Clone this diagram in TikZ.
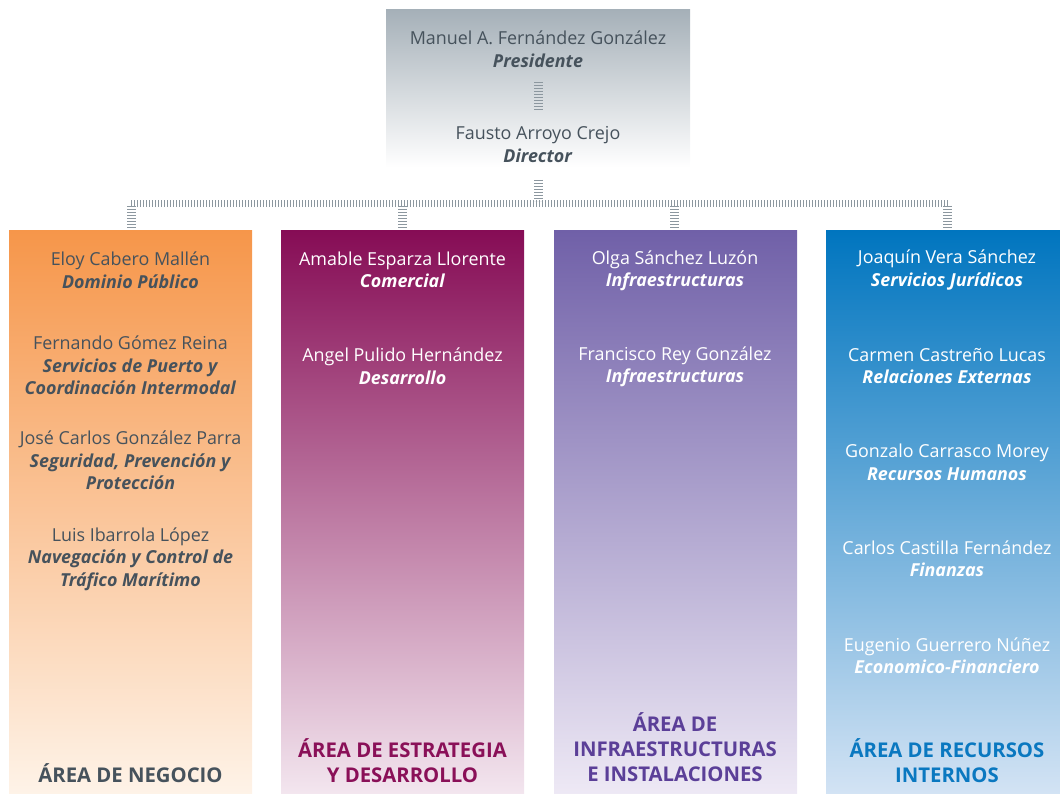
\documentclass[tikz,border=0pt]{standalone}
\usepackage{fontspec}
\setmainfont{Open Sans}
\definecolor{txt}{HTML}{46525C}
\definecolor{hatchc}{HTML}{8C979F}
\definecolor{topg}{HTML}{A5B0B8}
\definecolor{orT}{HTML}{F6964A}
\definecolor{orB}{HTML}{FEF3E8}
\definecolor{maT}{HTML}{860C55}
\definecolor{maB}{HTML}{F3E6EF}
\definecolor{puT}{HTML}{7060A8}
\definecolor{puB}{HTML}{EEE9F5}
\definecolor{blT}{HTML}{0075BF}
\definecolor{blB}{HTML}{D3E3F4}
\definecolor{maH}{HTML}{8A1058}
\definecolor{puH}{HTML}{5B3F98}
\definecolor{blH}{HTML}{0A78C0}
\newcommand\myrole[1]{\textbf{\textit{#1}}}
\begin{document}
\begin{tikzpicture}[x=1pt,y=-1pt,
  colbox/.style={draw=none,inner sep=0pt,minimum width=243pt,minimum height=564pt,anchor=north west},
  person/.style={align=center,font=\fontsize{17.9}{22.5}\selectfont,inner sep=0pt},
  head/.style={align=center,font=\fontsize{20.3}{25}\selectfont\bfseries,inner sep=0pt},
  hatchh/.style={draw=hatchc,line width=7pt,dash pattern=on 1.2pt off 1.8pt},
  hatchv/.style={draw=hatchc,line width=9pt,dash pattern=on 1.2pt off 1.8pt}]
\useasboundingbox (0,0) rectangle (1060,794);
% top box
\node[draw=none,inner sep=0pt,minimum width=304pt,minimum height=158pt,anchor=north west,
  top color=topg,bottom color=white] (top) at (386,9) {};
\node[person,text=txt] (pres) at (538,49) {Manuel A. Fernández González\\\myrole{Presidente}};
\node[person,text=txt] (dir) at (538,144.5) {Fausto Arroyo Crejo\\\myrole{Director}};
% columns
\node[colbox,top color=orT,bottom color=orB] (c1) at (9,230) {};
\node[colbox,top color=maT,bottom color=maB] (c2) at (281,230) {};
\node[colbox,top color=puT,bottom color=puB] (c3) at (554,230) {};
\node[colbox,top color=blT,bottom color=blB,minimum width=234pt] (c4) at (826,230) {};
% connectors
\coordinate (pa) at (538,82);
\coordinate (pb) at (538,110);
\coordinate (ta) at (538,180);
\coordinate (bus) at (538,201);
\coordinate (busL) at (131,203.5);
\coordinate (busR) at (948,203.5);
\coordinate (j1) at (131,206);
\coordinate (j2) at (402,206);
\coordinate (j3) at (674.5,206);
\coordinate (j4) at (947,206);
\coordinate (e1) at (131,228);
\coordinate (e2) at (402,228);
\coordinate (e3) at (674.5,228);
\coordinate (e4) at (947,228);
\draw[hatchv] (pa) -- (pb);
\draw[hatchv] (ta) -- (bus);
\draw[hatchh] (busL) -- (busR);
\draw[hatchv] (j1) -- (e1);
\draw[hatchv] (j2) -- (e2);
\draw[hatchv] (j3) -- (e3);
\draw[hatchv] (j4) -- (e4);
% column 1
\node[person,text=txt] (p11) at (130.5,270) {Eloy Cabero Mallén\\\myrole{Dominio Público}};
\node[person,text=txt] (p12) at (130.5,365.5) {Fernando Gómez Reina\\\myrole{Servicios de Puerto y}\\\myrole{Coordinación Intermodal}};
\node[person,text=txt] (p13) at (130.5,460.5) {José Carlos González Parra\\\myrole{Seguridad, Prevención y}\\\myrole{Protección}};
\node[person,text=txt] (p14) at (130.5,559) {Luis Ibarrola López\\\myrole{Navegación y Control de}\\\myrole{Tráfico Marítimo}};
\node[head,text=txt] (h1) at (130.5,773) {ÁREA DE NEGOCIO};
% column 2
\node[person,text=white] (p21) at (402.5,270) {Amable Esparza Llorente\\\myrole{Comercial}};
\node[person,text=white] (p22) at (402.5,366) {Angel Pulido Hernández\\\myrole{Desarrollo}};
\node[head,text=maH] (h2) at (402.5,760.5) {ÁREA DE ESTRATEGIA\\Y DESARROLLO};
% column 3
\node[person,text=white] (p31) at (675,271) {Olga Sánchez Luzón\\\myrole{Infraestructuras}};
\node[person,text=white] (p32) at (675,367) {Francisco Rey González\\\myrole{Infraestructuras}};
\node[head,text=puH] (h3) at (675,747.5) {ÁREA DE\\INFRAESTRUCTURAS\\E INSTALACIONES};
% column 4
\node[person,text=white] (p41) at (947,270) {Joaquín Vera Sánchez\\\myrole{Servicios Jurídicos}};
\node[person,text=white] (p42) at (947,366) {Carmen Castreño Lucas\\\myrole{Relaciones Externas}};
\node[person,text=white] (p43) at (947,462.5) {Gonzalo Carrasco Morey\\\myrole{Recursos Humanos}};
\node[person,text=white] (p44) at (947,558.5) {Carlos Castilla Fernández\\\myrole{Finanzas}};
\node[person,text=white] (p45) at (947,655.5) {Eugenio Guerrero Núñez\\\myrole{Economico-Financiero}};
\node[head,text=blH] (h4) at (947,760.5) {ÁREA DE RECURSOS\\INTERNOS};
\end{tikzpicture}
\end{document}
